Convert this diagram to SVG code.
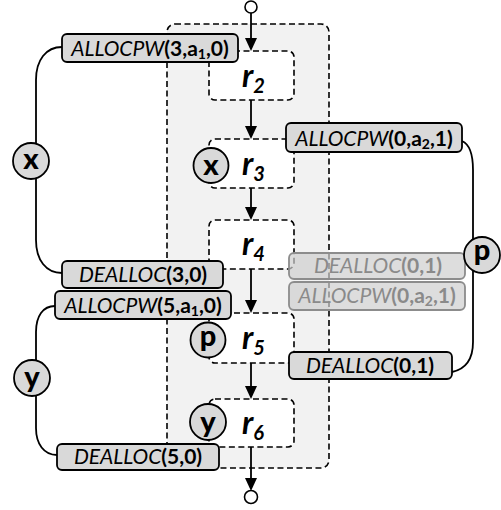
<svg xmlns="http://www.w3.org/2000/svg" width="501" height="510" viewBox="0 0 501 510">
  <style>
    .dash { stroke: #000; stroke-width: 1.6; stroke-dasharray: 6 3.5; }
    .outer { fill: #f2f2f2; }
    .region { fill: #ffffff; }
    .flow { stroke: #000; stroke-width: 1.8; fill: none; }
    .link { stroke: #000; stroke-width: 1.8; fill: none; }
    .box { fill: #d9d9d9; stroke: #000; stroke-width: 1.8; }
    .box.faded { fill: #cfcfcf; fill-opacity: 0.7; stroke: #8c8c8c; }
    .lbl { font-family: Lato, "Liberation Sans", sans-serif; font-size: 21px; text-anchor: middle; fill: #000; }
    .lbl.faded { fill: #8a8a8a; }
    .fn { font-style: italic; }
    .b { font-weight: bold; }
    .sub { font-size: 14px; }
    .rname { font-family: Lato, "Liberation Sans", sans-serif; font-size: 32px; font-weight: bold; font-style: italic; }
    .rsub { font-size: 20px; }
    .var { fill: #d9d9d9; stroke: #000; stroke-width: 1.8; }
    .vname { font-family: Lato, "Liberation Sans", sans-serif; font-size: 29px; font-weight: 900; text-anchor: middle; }
    .term { fill: #fff; stroke: #000; stroke-width: 1.6; }
  </style>
  <defs>
    <marker id="arrow" markerWidth="13" markerHeight="12" refX="11" refY="6" orient="auto" markerUnits="userSpaceOnUse">
      <path d="M0,0 L13,6 L0,12 z" fill="#000"/>
    </marker>
  </defs>

  <!-- enclosing region -->
  <g id="outer">
    <rect class="outer dash" x="167" y="24" width="162" height="444" rx="8"/>
  </g>

  <!-- inner regions -->
  <g id="r2"><rect class="region dash" x="209" y="51" width="85" height="49" rx="6"/></g>
  <g id="r3"><rect class="region dash" x="209" y="139" width="85" height="49" rx="6"/></g>
  <g id="r4"><rect class="region dash" x="209" y="220" width="85" height="49" rx="6"/></g>
  <g id="r5"><rect class="region dash" x="209" y="313" width="85" height="50" rx="6"/></g>
  <g id="r6"><rect class="region dash" x="209" y="399" width="85" height="48" rx="6"/></g>

  <!-- connectors -->
  <g id="connectors">
    <line class="flow" x1="251" y1="13" x2="251" y2="49" marker-end="url(#arrow)"/>
    <line class="flow" x1="251" y1="100" x2="251" y2="137" marker-end="url(#arrow)"/>
    <line class="flow" x1="251" y1="188" x2="251" y2="218" marker-end="url(#arrow)"/>
    <line class="flow" x1="251" y1="269" x2="251" y2="311" marker-end="url(#arrow)"/>
    <line class="flow" x1="251" y1="363" x2="251" y2="397" marker-end="url(#arrow)"/>
    <line class="flow" x1="251" y1="447" x2="251" y2="489" marker-end="url(#arrow)"/>
    <path class="link" d="M62,47 C46,47 36,60 36,80 L36,240 C36,260 46,273 62,273"/>
    <path class="link" d="M55,306 C43,306 36,316 36,332 L36,428 C36,444 44,455 57,455"/>
    <path class="link" d="M462,141 C469,144 473,154 473,170 L473,342 C473,358 466,369 452,372"/>
  </g>

  <!-- start / end terminals -->
  <g id="start"><circle class="term" cx="251" cy="7" r="6"/></g>
  <g id="end"><circle class="term" cx="251" cy="497" r="6.5"/></g>

  <!-- region names -->
  <g id="r2-name"><text class="rname" x="242" y="87">r<tspan class="rsub" dy="6">2</tspan></text></g>
  <g id="r3-name"><text class="rname" x="242" y="175">r<tspan class="rsub" dy="6">3</tspan></text></g>
  <g id="r4-name"><text class="rname" x="242" y="255">r<tspan class="rsub" dy="6">4</tspan></text></g>
  <g id="r5-name"><text class="rname" x="242" y="349">r<tspan class="rsub" dy="6">5</tspan></text></g>
  <g id="r6-name"><text class="rname" x="242" y="434">r<tspan class="rsub" dy="6">6</tspan></text></g>

  <!-- allocation / deallocation operations -->
  <g id="alloc-x">
    <rect class="box" x="62" y="34" width="176" height="28" rx="5"/>
    <text class="lbl" x="150" y="56"><tspan class="fn">ALLOCPW</tspan><tspan class="b">(3,a</tspan><tspan class="b sub" dy="3">1</tspan><tspan class="b" dy="-3">,0)</tspan></text>
  </g>
  <g id="dealloc-x">
    <rect class="box" x="62" y="261" width="161" height="27" rx="5"/>
    <text class="lbl" x="143" y="282"><tspan class="fn">DEALLOC</tspan><tspan class="b">(3,0)</tspan></text>
  </g>
  <g id="alloc-y">
    <rect class="box" x="55" y="291" width="176" height="28" rx="5"/>
    <text class="lbl" x="143" y="313"><tspan class="fn">ALLOCPW</tspan><tspan class="b">(5,a</tspan><tspan class="b sub" dy="3">1</tspan><tspan class="b" dy="-3">,0)</tspan></text>
  </g>
  <g id="dealloc-y">
    <rect class="box" x="57" y="444" width="162" height="26" rx="5"/>
    <text class="lbl" x="138" y="464"><tspan class="fn">DEALLOC</tspan><tspan class="b">(5,0)</tspan></text>
  </g>
  <g id="alloc-p">
    <rect class="box" x="286" y="123" width="176" height="29" rx="5"/>
    <text class="lbl" x="374" y="146"><tspan class="fn">ALLOCPW</tspan><tspan class="b">(0,a</tspan><tspan class="b sub" dy="3">2</tspan><tspan class="b" dy="-3">,1)</tspan></text>
  </g>
  <g id="dealloc-p-faded">
    <rect class="box faded" x="289" y="253" width="176" height="26" rx="5"/>
    <text class="lbl faded" x="378" y="273"><tspan class="fn">DEALLOC</tspan><tspan class="b">(0,1)</tspan></text>
  </g>
  <g id="alloc-p-faded">
    <rect class="box faded" x="289" y="282" width="176" height="28" rx="5"/>
    <text class="lbl faded" x="377" y="303"><tspan class="fn">ALLOCPW</tspan><tspan class="b">(0,a</tspan><tspan class="b sub" dy="3">2</tspan><tspan class="b" dy="-3">,1)</tspan></text>
  </g>
  <g id="dealloc-p">
    <rect class="box" x="289" y="352" width="163" height="27" rx="5"/>
    <text class="lbl" x="370" y="373"><tspan class="fn">DEALLOC</tspan><tspan class="b">(0,1)</tspan></text>
  </g>

  <!-- variables -->
  <g id="var-x-link"><circle class="var" cx="31" cy="161" r="18"/><text class="vname" x="31" y="169">x</text></g>
  <g id="var-y-link"><circle class="var" cx="32" cy="378" r="18"/><text class="vname" x="32" y="387">y</text></g>
  <g id="var-p-link"><circle class="var" cx="482" cy="255" r="18"/><text class="vname" x="482" y="260">p</text></g>
  <g id="var-x"><circle class="var" cx="211" cy="165.5" r="17.5"/><text class="vname" x="211" y="175">x</text></g>
  <g id="var-p"><circle class="var" cx="208" cy="340" r="17.5"/><text class="vname" x="208" y="346">p</text></g>
  <g id="var-y"><circle class="var" cx="208" cy="422" r="18"/><text class="vname" x="208" y="432">y</text></g>
</svg>
